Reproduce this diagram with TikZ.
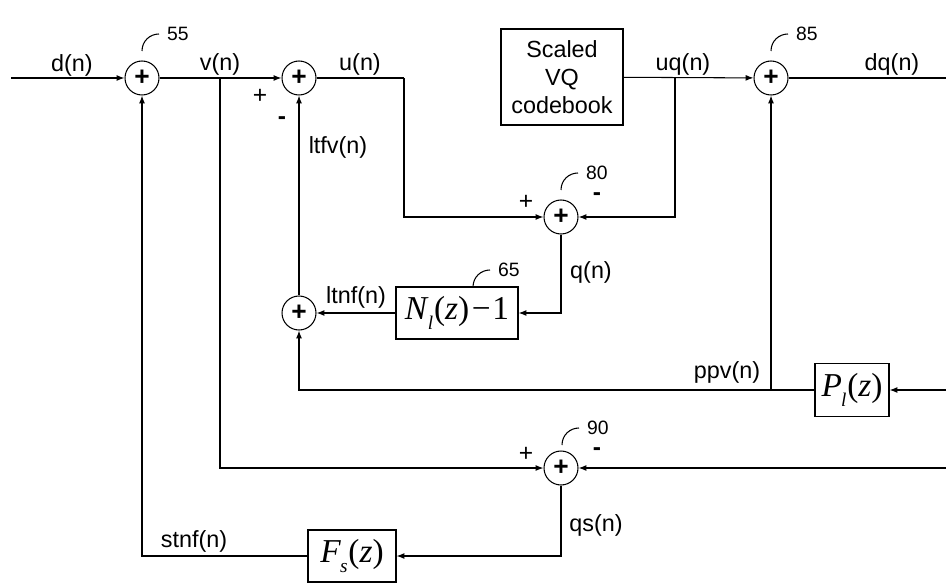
\documentclass[tikz,border=0pt]{standalone}
\usepackage{fontspec}
\setmainfont{Liberation Sans}
\newfontfamily\tnr{Liberation Serif}
\usetikzlibrary{arrows.meta}

\tikzset{
  sum/.style={draw,circle,minimum size=0.68cm,inner sep=0pt,font=\fontsize{15}{15}\selectfont\bfseries},
  blk/.style={draw,inner sep=0pt},
  sig/.style={font=\fontsize{13.3}{15}\selectfont},
  num/.style={font=\fontsize{11}{12}\selectfont},
  pm/.style={font=\fontsize{14}{14}\selectfont},
}
\newcommand{\tfun}[2]{{\tnr\fontsize{19}{20}\selectfont\textit{#1}\kern-0.5pt\raisebox{-0.28em}{\fontsize{11}{12}\selectfont\textit{#2}}\kern0.5pt(\textit{z})}}
\newcommand{\leader}[3]{\draw (#1) .. controls +(0,-10) and +(-9,0) .. ++(17,-17) node[num,right=1pt] {#2};}

\begin{document}
\begin{tikzpicture}[x=0.02cm,y=-0.02cm,line width=0.6pt,>={Latex[length=4.5pt,width=3.4pt]}]
    \useasboundingbox (0,0) rectangle (946,584);

    \node[sum] (s55) at (142,78) {+};
    \node[sum] (s75) at (299,78) {+};
    \node[sum] (s85) at (771,78) {+};
    \node[sum] (s80) at (561,217) {+};
    \node[sum] (s70) at (299,313) {+};
    \node[sum] (s90) at (561,468) {+};

    \node[blk,minimum width=2.44cm,minimum height=1.92cm,align=center,font=\fontsize{13.3}{16}\selectfont] (vq) at (562,77) {Scaled\\VQ\\codebook};
    \node[blk,minimum width=2.44cm,minimum height=1.04cm] (nl) at (457,313) {\tfun{N}{l}\kern1.5pt{\tnr\fontsize{19}{20}\selectfont −\kern1pt1}};
    \node[blk,minimum width=1.48cm,minimum height=1.06cm] (pl) at (852,390) {\tfun{P}{l}};
    \node[blk,minimum width=1.76cm,minimum height=1.04cm] (fs) at (352,556) {\tfun{F}{s}};

    \coordinate (in) at (11,78);
    \coordinate (out) at (946,78);
    \coordinate (vb) at (220,78);
    \coordinate (uc) at (404,78);
    \coordinate (uqb) at (675,78);
    \coordinate (ppvb) at (771,390);
    \coordinate (pin) at (946,390);
    \coordinate (qin) at (946,468);

    \draw[->] (in) -- (s55);
    \draw[->] (s55) -- (s75);
    \draw (s75) -- (uc);
    \draw[->] (uc) |- (s80);
    \draw[->] (vb) |- (s90);
    \draw[->] (vq) -- (s85);
    \draw[->] (uqb) |- (s80);
    \draw (s85) -- (out);
    \draw[->] (s80) |- (nl);
    \draw[->] (nl) -- (s70);
    \draw[->] (s70) -- (s75);
    \draw[->] (pl) -| (s70);
    \draw[->] (ppvb) -- (s85);
    \draw[->] (pin) -- (pl);
    \draw[->] (qin) -- (s90);
    \draw[->] (s90) |- (fs);
    \draw[->] (fs) -| (s55);

    \node[sig] at (72,65) {d(n)};
    \node[sig] at (220,64) {v(n)};
    \node[sig] at (360,64) {u(n)};
    \node[sig] at (683,64) {uq(n)};
    \node[sig] at (892,64) {dq(n)};
    \node[sig] at (338,147) {ltfv(n)};
    \node[sig] at (591,272) {q(n)};
    \node[sig] at (356,297) {ltnf(n)};
    \node[sig] at (727,372) {ppv(n)};
    \node[sig] at (596,525) {qs(n)};
    \node[sig] at (194,541) {stnf(n)};

    \node[pm] at (260,96) {+};
    \node[pm] at (282,121) {\textbf{-}};
    \node[pm] at (526,202) {+};
    \node[pm] at (597,197) {\textbf{-}};
    \node[pm] at (526,454) {+};
    \node[pm] at (597,452) {\textbf{-}};

    \leader{142,51}{55}
    \leader{299,51}{75}
    \leader{771,51}{85}
    \leader{583,29}{48}
    \leader{561,190}{80}
    \leader{307,287}{70}
    \leader{473,287}{65}
    \leader{868,363}{60}
    \leader{562,445}{90}
    \leader{369,530}{50}
\end{tikzpicture}
\end{document}
